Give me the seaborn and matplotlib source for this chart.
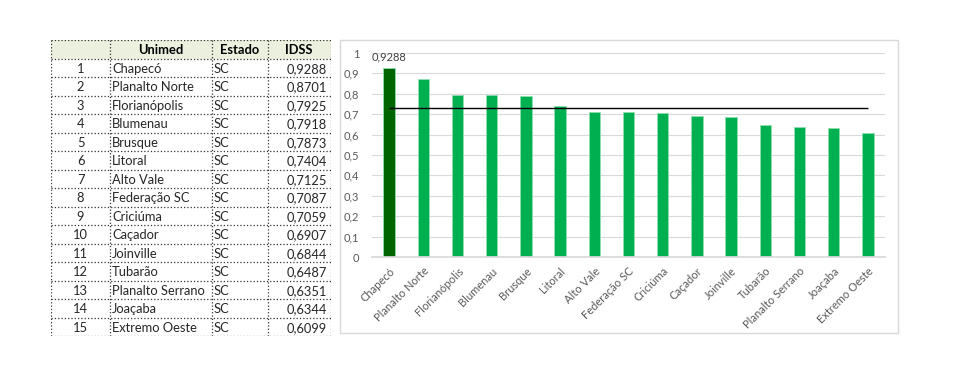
import matplotlib.pyplot as plt
import pandas as pd
import seaborn as sns
from matplotlib.patches import Rectangle

# data
unimeds = ["Chapecó", "Planalto Norte", "Florianópolis", "Blumenau", "Brusque",
           "Litoral", "Alto Vale", "Federação SC", "Criciúma", "Caçador",
           "Joinville", "Tubarão", "Planalto Serrano", "Joaçaba", "Extremo Oeste"]
estados = ["SC"] * 15
idss = [0.9288, 0.8701, 0.7925, 0.7918, 0.7873, 0.7404, 0.7125, 0.7087,
        0.7059, 0.6907, 0.6844, 0.6487, 0.6351, 0.6344, 0.6099]
ref_value = 0.728
header = ["", "Unimed", "Estado", "IDSS"]
y_ticks = [0, 0.1, 0.2, 0.3, 0.4, 0.5, 0.6, 0.7, 0.8, 0.9, 1]

sns.set_theme(style="white")
plt.rcParams["font.family"] = ["Lato", "DejaVu Sans"]

W, H = 960, 377
fig = plt.figure(figsize=(W / 100, H / 100), dpi=100)


def box(x0, y0, x1, y1):
    return [x0 / W, 1 - y1 / H, (x1 - x0) / W, (y1 - y0) / H]


def br(v):
    return f"{v:.4f}".replace(".", ",")


# ---- table on the left ----
tax = fig.add_axes(box(51, 40, 331, 336))
cols = [0, 59, 160.5, 216.5, 280]
nrows = len(unimeds) + 1
tax.set_xlim(0, 280)
tax.set_ylim(nrows, 0)
tax.axis("off")
tax.add_patch(Rectangle((0, 0), 280, 1, color="#EBF1DE", lw=0))
tax.hlines(range(nrows + 1), 0, 280, colors="#333333", linestyles=":", lw=0.9)
tax.vlines(cols, 0, nrows, colors="#333333", linestyles=":", lw=0.9)
fs = 9.3
for j, h in enumerate(header):
    tax.text((cols[j] + cols[j + 1]) / 2, 0.55, h, ha="center", va="center",
             fontsize=fs, fontweight="bold", color="black")
for i, (u, e, v) in enumerate(zip(unimeds, estados, idss)):
    y = i + 1.55
    tax.text((cols[0] + cols[1]) / 2, y, str(i + 1), ha="center", va="center", fontsize=fs)
    tax.text(cols[1] + 2, y, u, ha="left", va="center", fontsize=fs)
    tax.text(cols[2] + 2, y, e, ha="left", va="center", fontsize=fs)
    tax.text(cols[4] - 4, y, br(v), ha="right", va="center", fontsize=fs)

# ---- chart frame ----
fig.add_artist(Rectangle((340 / W, 1 - 333 / H), 558 / W, 293 / H,
                         transform=fig.transFigure, fill=False,
                         ec="#D9D9D9", lw=1))

# ---- bar chart ----
df = pd.DataFrame({"unimed": unimeds, "idss": idss})
palette = ["#006400"] + ["#00B050"] * (len(unimeds) - 1)
ax = fig.add_axes(box(372, 53, 885, 257))
sns.barplot(data=df, x="unimed", y="idss", hue="unimed", palette=palette,
            legend=False, width=0.33, ax=ax, edgecolor="#8FDDB0", linewidth=0.6,
            saturation=1)
ax.hlines(ref_value, 0, len(unimeds) - 1, color="black", lw=1, zorder=3)
ax.bar_label(ax.containers[0], labels=[br(idss[0])], padding=4,
             fontsize=8, color="#404040")

ax.set_ylim(0, 1)
ax.set_xlim(-0.5, len(unimeds) - 0.5)
ax.set_yticks(y_ticks)
ax.set_yticklabels([f"{t:g}".replace(".", ",") for t in y_ticks])
ax.yaxis.grid(True, color="#D9D9D9", lw=0.8)
ax.set_axisbelow(True)
for s in ["top", "right", "left"]:
    ax.spines[s].set_visible(False)
ax.spines["bottom"].set_color("#D9D9D9")
ax.set_xlabel("")
ax.set_ylabel("")
ax.tick_params(axis="both", length=0, colors="#595959", labelsize=8)
ax.tick_params(axis="y", pad=9)
ax.tick_params(axis="x", pad=6)
for lbl in ax.get_xticklabels():
    lbl.set_rotation(45)
    lbl.set_ha("right")
    lbl.set_va("top")
    lbl.set_rotation_mode("anchor")

fig.savefig("out.png", dpi=100)
